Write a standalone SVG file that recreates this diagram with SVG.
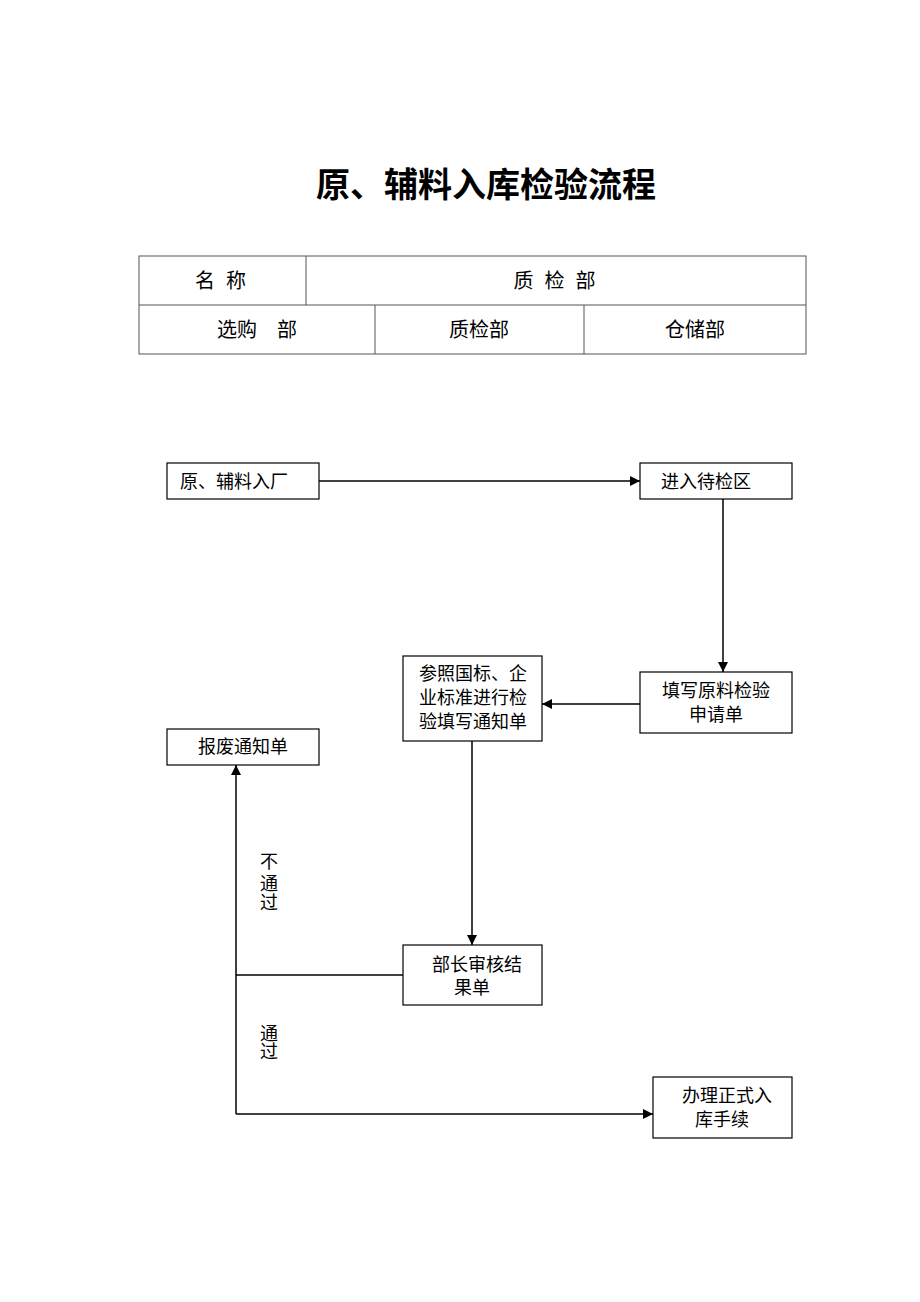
<svg xmlns="http://www.w3.org/2000/svg" width="920" height="1302" viewBox="0 0 920 1302">
<style>
text{font-family:"Liberation Serif","Noto Sans CJK SC",serif;fill:#000}
.t{font-size:18px}
.h{font-size:20px}
.box{fill:#fff;stroke:#000;stroke-width:1.2}
.tbl{fill:none;stroke:#555;stroke-width:1}
.c{fill:none;stroke:#000;stroke-width:1.5}
</style>
<defs>
<marker id="ah" viewBox="0 0 10 10" refX="10" refY="5" markerWidth="10" markerHeight="10" markerUnits="userSpaceOnUse" orient="auto">
<path d="M0,0 L10,5 L0,10 z" fill="#000"/>
</marker>
</defs>
<rect width="920" height="1302" fill="#fff"/>
<text x="486" y="197" font-size="34" font-weight="bold" text-anchor="middle">原、辅料入库检验流程</text>
<g id="table">
<rect class="tbl" x="139" y="256" width="667" height="98"/>
<line class="tbl" x1="139" y1="305" x2="806" y2="305"/>
<line class="tbl" x1="306" y1="256" x2="306" y2="305"/>
<line class="tbl" x1="375" y1="305" x2="375" y2="354"/>
<line class="tbl" x1="584" y1="305" x2="584" y2="354"/>
<text class="h" x="222" y="288" text-anchor="middle" letter-spacing="3">名 称</text>
<text class="h" x="556" y="288" text-anchor="middle" letter-spacing="3">质 检 部</text>
<text class="h" x="257" y="337" text-anchor="middle">选购　部</text>
<text class="h" x="479" y="337" text-anchor="middle">质检部</text>
<text class="h" x="695" y="337" text-anchor="middle">仓储部</text>
</g>
<g id="connectors">
<line class="c" x1="319" y1="481" x2="640" y2="481" marker-end="url(#ah)"/>
<line class="c" x1="723" y1="499" x2="723" y2="672" marker-end="url(#ah)"/>
<line class="c" x1="640" y1="704" x2="542" y2="704" marker-end="url(#ah)"/>
<line class="c" x1="472" y1="741" x2="472" y2="945" marker-end="url(#ah)"/>
<polyline class="c" points="403,975 236,975"/>
<line class="c" x1="236" y1="1114" x2="236" y2="765" marker-end="url(#ah)"/>
<line class="c" x1="236" y1="1114" x2="653" y2="1114" marker-end="url(#ah)"/>
<text class="t" x="269" y="868" text-anchor="middle">不</text>
<text class="t" x="269" y="890" text-anchor="middle">通</text>
<text class="t" x="269" y="909" text-anchor="middle">过</text>
<text class="t" x="269" y="1040" text-anchor="middle">通</text>
<text class="t" x="269" y="1058" text-anchor="middle">过</text>
</g>
<g id="n1">
<rect class="box" x="167" y="463" width="152" height="36"/>
<text class="t" x="180" y="488">原、辅料入厂</text>
</g>
<g id="n2">
<rect class="box" x="640" y="463" width="152" height="36"/>
<text class="t" x="661" y="488">进入待检区</text>
</g>
<g id="n3">
<rect class="box" x="640" y="672" width="152" height="61"/>
<text class="t" x="716" y="697" text-anchor="middle">填写原料检验</text>
<text class="t" x="716" y="721" text-anchor="middle">申请单</text>
</g>
<g id="n4">
<rect class="box" x="403" y="656" width="139" height="85"/>
<text class="t" x="473" y="680" text-anchor="middle">参照国标、企</text>
<text class="t" x="473" y="704" text-anchor="middle">业标准进行检</text>
<text class="t" x="473" y="728" text-anchor="middle">验填写通知单</text>
</g>
<g id="n5">
<rect class="box" x="167" y="729" width="152" height="36"/>
<text class="t" x="243" y="753" text-anchor="middle">报废通知单</text>
</g>
<g id="n6">
<rect class="box" x="403" y="945" width="139" height="60"/>
<text class="t" x="477" y="971" text-anchor="middle">部长审核结</text>
<text class="t" x="472" y="994" text-anchor="middle">果单</text>
</g>
<g id="n7">
<rect class="box" x="653" y="1077" width="139" height="61"/>
<text class="t" x="727" y="1102" text-anchor="middle">办理正式入</text>
<text class="t" x="722" y="1126" text-anchor="middle">库手续</text>
</g>
</svg>
